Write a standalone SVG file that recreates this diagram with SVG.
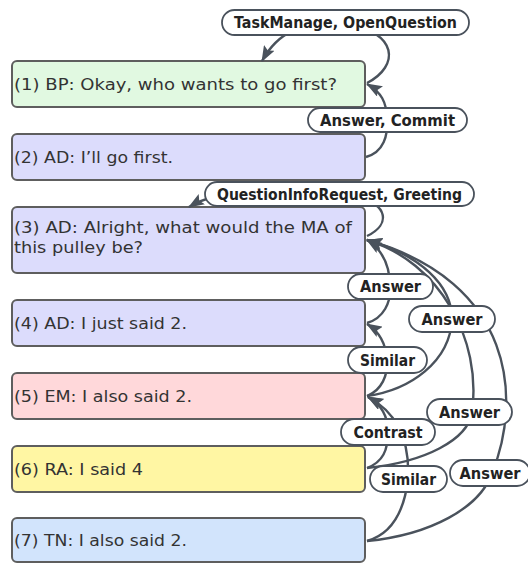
<svg xmlns="http://www.w3.org/2000/svg" width="528" height="563" viewBox="0 0 528 563">
<style>
.node rect{stroke:#5e5e5e;stroke-width:2}
.node text{font-family:"DejaVu Sans","Liberation Sans",sans-serif;font-size:16.5px;fill:#333}
.edge{fill:none;stroke:#4a525c;stroke-width:2.4}
.lbl rect{fill:#fff;stroke:#4a525c;stroke-width:1.8}
.lbl text{font-family:"DejaVu Sans","Liberation Sans",sans-serif;font-weight:bold;font-size:15px;fill:#222;text-anchor:middle}
</style>
<defs>
<marker id="ah" viewBox="0 0 16 12" refX="15" refY="6" markerWidth="16" markerHeight="12" markerUnits="userSpaceOnUse" orient="auto">
<path d="M0,0 L16,6 L0,12 L3,6 Z" fill="#4a525c"/>
</marker>
</defs>
<rect width="528" height="563" fill="#fff"/>
<g id="n1" class="node"><rect x="12" y="61" width="353" height="46" rx="5" fill="#e1f9e1"/><text x="14" y="90" textLength="323" lengthAdjust="spacingAndGlyphs">(1) BP: Okay, who wants to go first?</text></g>
<g id="n2" class="node"><rect x="12" y="134" width="353" height="46" rx="5" fill="#dcdcfc"/><text x="14" y="163" textLength="159" lengthAdjust="spacingAndGlyphs">(2) AD: I’ll go first.</text></g>
<g id="n3" class="node"><rect x="12" y="207" width="353" height="66" rx="5" fill="#dcdcfc"/><text x="14" y="233" textLength="338" lengthAdjust="spacingAndGlyphs">(3) AD: Alright, what would the MA of</text><text x="14" y="253" textLength="129" lengthAdjust="spacingAndGlyphs">this pulley be?</text></g>
<g id="n4" class="node"><rect x="12" y="300" width="353" height="46" rx="5" fill="#dcdcfc"/><text x="14" y="329" textLength="173" lengthAdjust="spacingAndGlyphs">(4) AD: I just said 2.</text></g>
<g id="n5" class="node"><rect x="12" y="373" width="353" height="46" rx="5" fill="#ffd8da"/><text x="14" y="402" textLength="178" lengthAdjust="spacingAndGlyphs">(5) EM: I also said 2.</text></g>
<g id="n6" class="node"><rect x="12" y="446" width="353" height="46" rx="5" fill="#fff6a3"/><text x="14" y="475" textLength="129" lengthAdjust="spacingAndGlyphs">(6) RA: I said 4</text></g>
<g id="n7" class="node"><rect x="12" y="518" width="353" height="44" rx="5" fill="#d2e4fc"/><text x="14" y="546" textLength="173" lengthAdjust="spacingAndGlyphs">(7) TN: I also said 2.</text></g>
<g id="connectors">
<path class="edge" d="M367 83 C400 66 398 32 346 24 C300 22 278 32 262 61" marker-end="url(#ah)"/>
<path class="edge" d="M366 157 C384 152 388 135 387 120 C387 102 381 92 367 84" marker-end="url(#ah)"/>
<path class="edge" d="M367 236 C392 224 386 204 360 198 C300 186 225 185 189 207" marker-end="url(#ah)"/>
<path class="edge" d="M367 323 C384 318 391 302 390 287 C390 266 383 250 367 240" marker-end="url(#ah)"/>
<path class="edge" d="M367 396 C410 390 450 362 452 319 C452 285 420 255 367 240" marker-end="url(#ah)"/>
<path class="edge" d="M367 468 C425 462 468 440 472 412 C482 340 440 262 367 240" marker-end="url(#ah)"/>
<path class="edge" d="M367 541 C430 535 480 508 492 473 C522 400 515 282 367 240" marker-end="url(#ah)"/>
<path class="edge" d="M367 396 C382 390 388 375 387 360 C386 345 380 332 367 324" marker-end="url(#ah)"/>
<path class="edge" d="M367 468 C383 462 388 450 388 432 C388 418 382 405 368 397" marker-end="url(#ah)"/>
<path class="edge" d="M367 541 C395 533 405 505 408 479 C410 440 396 412 368 397" marker-end="url(#ah)"/>
</g>
<g id="labels">
<g class="lbl"><rect x="222" y="10" width="247" height="25" rx="12.5"/><text x="345.5" y="28" textLength="223" lengthAdjust="spacingAndGlyphs">TaskManage, OpenQuestion</text></g>
<g class="lbl"><rect x="308" y="108" width="159" height="24" rx="12"/><text x="387.5" y="125.5" textLength="135" lengthAdjust="spacingAndGlyphs">Answer, Commit</text></g>
<g class="lbl"><rect x="205" y="182" width="269" height="24" rx="12"/><text x="339.5" y="199.5" textLength="245" lengthAdjust="spacingAndGlyphs">QuestionInfoRequest, Greeting</text></g>
<g class="lbl"><rect x="348" y="274" width="85" height="25" rx="12.5"/><text x="390.5" y="292" textLength="61" lengthAdjust="spacingAndGlyphs">Answer</text></g>
<g class="lbl"><rect x="409" y="306" width="86" height="26" rx="13"/><text x="452" y="324.5" textLength="61" lengthAdjust="spacingAndGlyphs">Answer</text></g>
<g class="lbl"><rect x="348" y="347" width="79" height="26" rx="13"/><text x="387.5" y="365.5" textLength="55" lengthAdjust="spacingAndGlyphs">Similar</text></g>
<g class="lbl"><rect x="427" y="399" width="85" height="26" rx="13"/><text x="469.5" y="417.5" textLength="61" lengthAdjust="spacingAndGlyphs">Answer</text></g>
<g class="lbl"><rect x="341" y="419" width="94" height="26" rx="13"/><text x="388" y="437.5" textLength="69" lengthAdjust="spacingAndGlyphs">Contrast</text></g>
<g class="lbl"><rect x="370" y="466" width="77" height="26" rx="13"/><text x="408.5" y="484.5" textLength="55" lengthAdjust="spacingAndGlyphs">Similar</text></g>
<g class="lbl"><rect x="450" y="460" width="80" height="26" rx="13"/><text x="490" y="478.5" textLength="61" lengthAdjust="spacingAndGlyphs">Answer</text></g>
</g>
</svg>
